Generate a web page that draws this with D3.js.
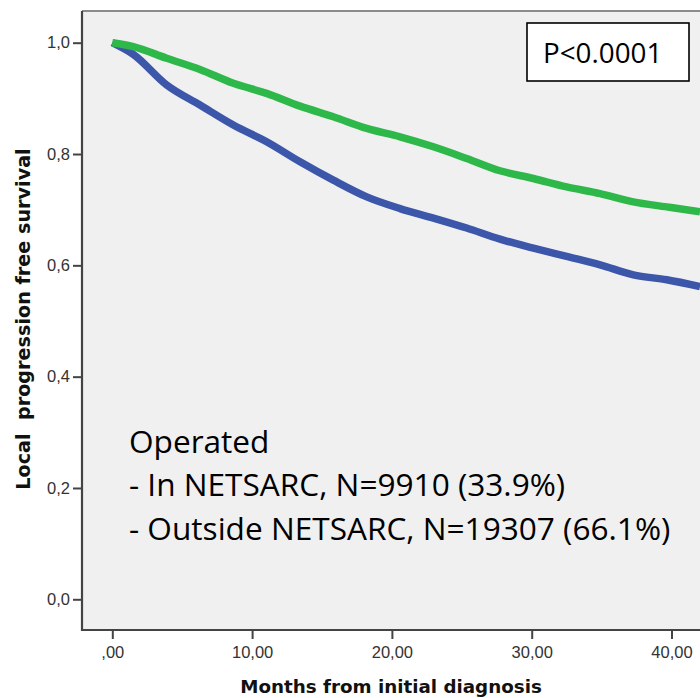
<!DOCTYPE html>
<html><head><meta charset="utf-8">
<script src="https://cdn.jsdelivr.net/npm/d3@7/dist/d3.min.js"></script>
<style>body{margin:0;background:#fff}svg{display:block}</style>
</head><body>
<svg id="c" width="700" height="698"></svg>
<script>
// Data (months, survival proportion)
const months = [0, 1.5, 3.89, 6.27, 8.66, 11.04, 13.43, 15.81, 18.2, 20.58, 22.97, 25.35, 27.73, 30.12, 32.5, 34.89, 37.27, 39.66, 42.04];
const inNetsarc = [1.0, 0.993, 0.972, 0.952, 0.927, 0.909, 0.886, 0.867, 0.846, 0.831, 0.813, 0.792, 0.770, 0.756, 0.741, 0.729, 0.714, 0.705, 0.696];
const outsideNetsarc = [1.0, 0.979, 0.924, 0.888, 0.852, 0.822, 0.786, 0.753, 0.723, 0.702, 0.685, 0.667, 0.647, 0.631, 0.616, 0.601, 0.583, 0.574, 0.562];
const yTicks = [0, 0.2, 0.4, 0.6, 0.8, 1.0];
const yTickLabels = ["0,0", "0,2", "0,4", "0,6", "0,8", "1,0"];
const xTicks = [0, 10, 20, 30, 40];
const xTickLabels = [",00", "10,00", "20,00", "30,00", "40,00"];
const legendLines = ["Operated", "- In NETSARC, N=9910 (33.9%)", "- Outside NETSARC, N=19307 (66.1%)"];
const pText = "P<0.0001";

const svg = d3.select("#c");
const plot = {left: 82, top: 11, right: 702, bottom: 630};
const x = d3.scaleLinear().domain([0, 40]).range([112.3, 671.5]);
const y = d3.scaleLinear().domain([0, 1]).range([599.3, 42.7]);

svg.append("rect").attr("x", plot.left).attr("y", plot.top)
  .attr("width", plot.right - plot.left).attr("height", plot.bottom - plot.top)
  .attr("fill", "#f0f0f0");
svg.append("line").attr("x1", plot.left).attr("x2", plot.right).attr("y1", plot.top).attr("y2", plot.top)
  .attr("stroke", "#8c8c8c").attr("stroke-width", 2);

svg.append("defs").append("clipPath").attr("id", "clip").append("rect")
  .attr("x", plot.left).attr("y", plot.top).attr("width", plot.right - plot.left).attr("height", plot.bottom - plot.top);

// Y axis
const yAxis = d3.axisLeft(y).tickValues(yTicks).tickFormat((d, i) => yTickLabels[i]).tickSize(9).tickPadding(3);
const gy = svg.append("g").attr("transform", `translate(${plot.left},0)`).call(yAxis);
gy.select(".domain").remove();
gy.append("line").attr("x1", 0).attr("x2", 0).attr("y1", plot.top).attr("y2", plot.bottom + 1)
  .attr("stroke", "#444").attr("stroke-width", 2.2);
gy.selectAll(".tick line").attr("stroke", "#444").attr("stroke-width", 2);
gy.selectAll(".tick text").attr("font-family", "'Liberation Sans', Arial, sans-serif").attr("font-size", 16.5).attr("fill", "#333");

// X axis
const xAxis = d3.axisBottom(x).tickValues(xTicks).tickFormat((d, i) => xTickLabels[i]).tickSize(9).tickPadding(7);
const gx = svg.append("g").attr("transform", `translate(0,${plot.bottom})`).call(xAxis);
gx.select(".domain").remove();
gx.append("line").attr("x1", plot.left - 1).attr("x2", plot.right).attr("y1", 0).attr("y2", 0)
  .attr("stroke", "#444").attr("stroke-width", 2.2);
gx.selectAll(".tick line").attr("stroke", "#444").attr("stroke-width", 2);
gx.selectAll(".tick text").attr("font-family", "'Liberation Sans', Arial, sans-serif").attr("font-size", 16.5).attr("fill", "#333");

// Titles
svg.append("text").attr("x", 391).attr("y", 693).attr("text-anchor", "middle")
  .attr("font-family", "'DejaVu Sans', sans-serif").attr("font-weight", "bold").attr("font-size", 18.3)
  .attr("fill", "#111").text("Months from initial diagnosis");
svg.append("text").attr("transform", "translate(30,319) rotate(-90)").attr("text-anchor", "middle")
  .attr("font-family", "'DejaVu Sans', sans-serif").attr("font-weight", "bold").attr("font-size", 19.2)
  .attr("fill", "#111").style("white-space", "pre")
  .text("Local  progression free survival");

// Curves
const series = [
  {vals: outsideNetsarc, color: "#3c56aa"},
  {vals: inNetsarc, color: "#2fb84a"}
];
const line = d3.line().x(d => x(d[0])).y(d => y(d[1])).curve(d3.curveMonotoneX);
const gl = svg.append("g").attr("clip-path", "url(#clip)");
series.forEach(s => {
  gl.append("path").datum(months.map((m, i) => [m, s.vals[i]]))
    .attr("d", line).attr("fill", "none").attr("stroke", s.color).attr("stroke-width", 7.5)
    .attr("stroke-linejoin", "round");
});

// P-value box
svg.append("rect").attr("x", 527).attr("y", 23).attr("width", 162).attr("height", 58)
  .attr("fill", "#fff").attr("stroke", "#000").attr("stroke-width", 1.6);
svg.append("text").attr("x", 543).attr("y", 63).attr("font-family", "'Open Sans', sans-serif")
  .attr("font-size", 27.8).attr("fill", "#000").text(pText);

// Legend text
const baselines = [453, 496, 539.5];
legendLines.forEach((t, i) => {
  svg.append("text").attr("x", 129).attr("y", baselines[i]).attr("font-family", "'Open Sans', sans-serif")
    .attr("font-size", 31.6).attr("fill", "#000").text(t);
});
</script>
</body></html>
